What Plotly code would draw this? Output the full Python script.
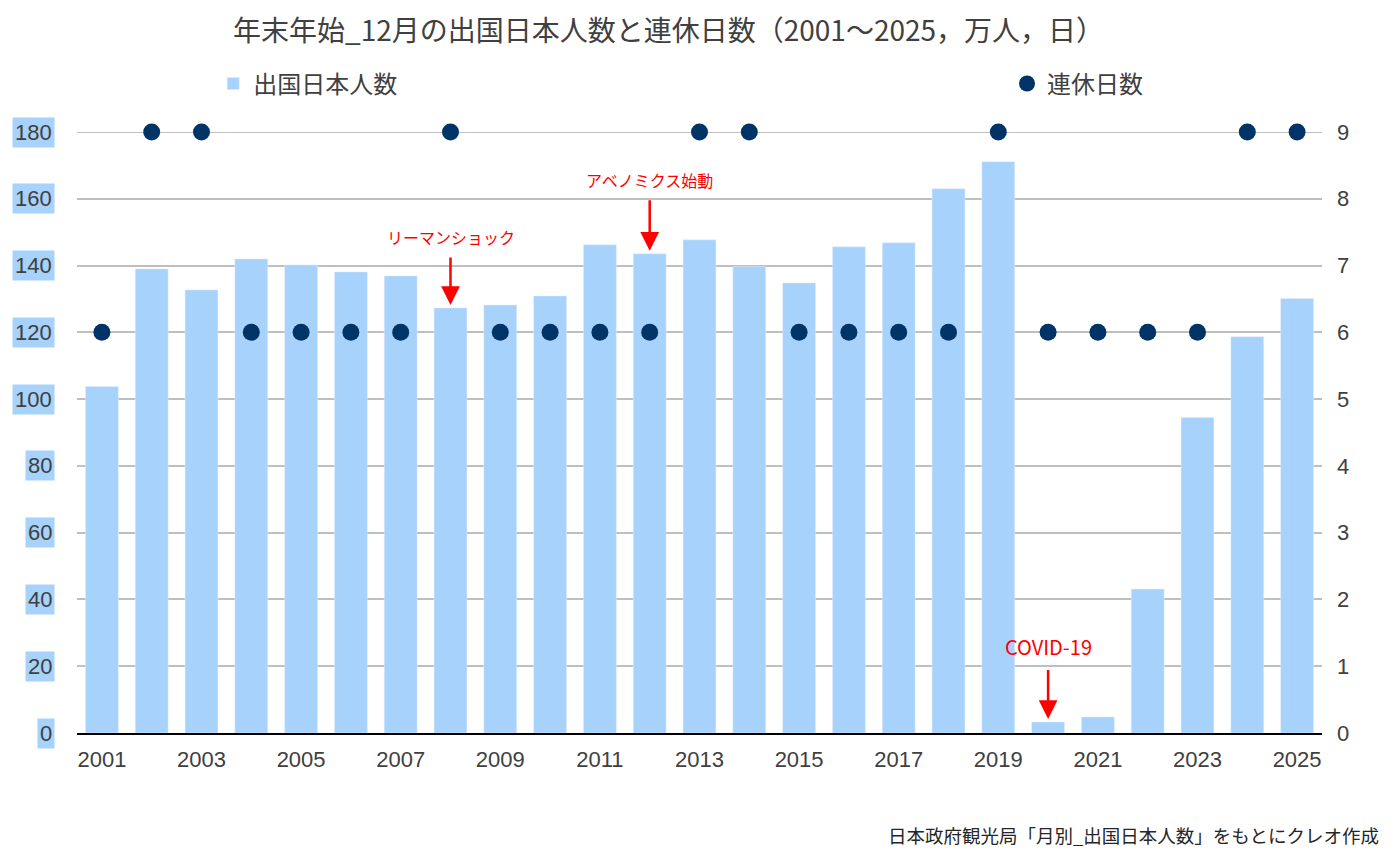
import plotly.graph_objects as go

years = [str(y) for y in range(2001, 2026)]
travelers = [103.8, 139.0, 132.7, 142.0, 140.2, 138.1, 136.9, 127.3, 128.2, 130.9,
             146.2, 143.5, 147.7, 139.7, 134.8, 145.6, 146.8, 163.0, 171.1, 3.3,
             4.8, 43.1, 94.5, 118.7, 130.1]
holidays = [6, 9, 9, 6, 6, 6, 6, 9, 6, 6,
            6, 6, 9, 9, 6, 6, 6, 6, 9, 6,
            6, 6, 6, 9, 9]
x_ticks = [str(y) for y in range(2001, 2026, 2)]
left_ticks = [0, 20, 40, 60, 80, 100, 120, 140, 160, 180]
left_labels = [str(v) for v in left_ticks]
right_ticks = list(range(0, 10))
events = [("2008", "リーマンショック", -71, 16), ("2012", "アベノミクス始動", -74, 16), ("2020", "COVID-19", -75, 20)]

BAR = "#a6d2fc"
DOT = "#003366"
TXT = "#404040"
JP = "Noto Sans CJK JP"
NUM = "Liberation Sans, Arial"

W, H = 1387, 853  # page body has an 8px margin

fig = go.Figure()
fig.add_trace(go.Bar(x=years, y=travelers, name="出国日本人数", marker_color=BAR,
                     width=0.66, legend="legend"))
fig.add_trace(go.Scatter(x=years, y=holidays, name="連休日数", mode="markers", yaxis="y2",
                         marker=dict(color=DOT, size=17), cliponaxis=False, legend="legend2"))

# top gridline (plotly omits the grid line at the range edge)
fig.add_shape(type="line", xref="paper", yref="y", x0=0, x1=1, y0=left_ticks[-1], y1=left_ticks[-1],
              line=dict(color="#bfbfbf", width=2), layer="below")

annotations = []
for v, lab in zip(left_ticks, left_labels):
    annotations.append(dict(xref="paper", yref="y", x=0, y=v, xanchor="right", yanchor="middle",
                            xshift=-22, text=lab, showarrow=False, bgcolor=BAR, borderpad=2,
                            font=dict(family=NUM, size=22, color=TXT)))
for yr, txt, ay, fs in events:
    idx = years.index(yr)
    val = travelers[idx]
    annotations.append(dict(x=idx, y=val, xref="x", yref="y", text=txt, showarrow=True,
                            ax=0, ay=ay, axref="pixel", ayref="pixel",
                            arrowcolor="#ff0000", arrowwidth=2.5, arrowhead=2, arrowsize=1.5,
                            standoff=3, borderpad=8,
                            font=dict(family=JP, size=fs, color="#ff0000")))
annotations.append(dict(xref="paper", yref="paper", x=1, y=-0.17, xanchor="right", yanchor="middle",
                        xshift=59, text="日本政府観光局「月別_出国日本人数」をもとにクレオ作成",
                        showarrow=False, font=dict(family=JP, size=18.5, color="#262626")))

fig.update_layout(
    width=W, height=H,
    margin=dict(l=69, r=73, t=124, b=128),
    plot_bgcolor="white", paper_bgcolor="white",
    title=dict(text="年末年始_12月の出国日本人数と連休日数（2001～2025，万人，日）",
               x=225/W, xanchor="left", xref="container",
               y=1-23/H, yanchor="middle", yref="container",
               font=dict(family=JP, size=28, color=TXT)),
    xaxis=dict(type="category", range=[-0.5, 24.5], tickvals=x_ticks, ticktext=x_ticks,
               showline=True, linecolor="black", linewidth=2, showgrid=False, ticks="",
               ticklabelstandoff=6,
               tickfont=dict(family=NUM, size=22, color=TXT)),
    yaxis=dict(range=[0, 180], tickvals=left_ticks, showticklabels=False,
               showgrid=True, gridcolor="#bfbfbf", gridwidth=2, zeroline=False, ticks=""),
    yaxis2=dict(range=[0, 9], tickvals=right_ticks, overlaying="y", side="right",
                showgrid=False, zeroline=False, ticks="", ticklabelstandoff=14,
                tickfont=dict(family=NUM, size=22, color=TXT)),
    legend=dict(x=0.1094, y=1.08, xanchor="left", yanchor="middle",
                orientation="h", font=dict(family=JP, size=24, color=TXT),
                bgcolor="rgba(0,0,0,0)"),
    legend2=dict(x=0.747, y=1.08, xanchor="left", yanchor="middle",
                 orientation="h", font=dict(family=JP, size=24, color=TXT),
                 bgcolor="rgba(0,0,0,0)"),
    annotations=annotations,
    showlegend=True,
)

fig.write_html("out.html")
